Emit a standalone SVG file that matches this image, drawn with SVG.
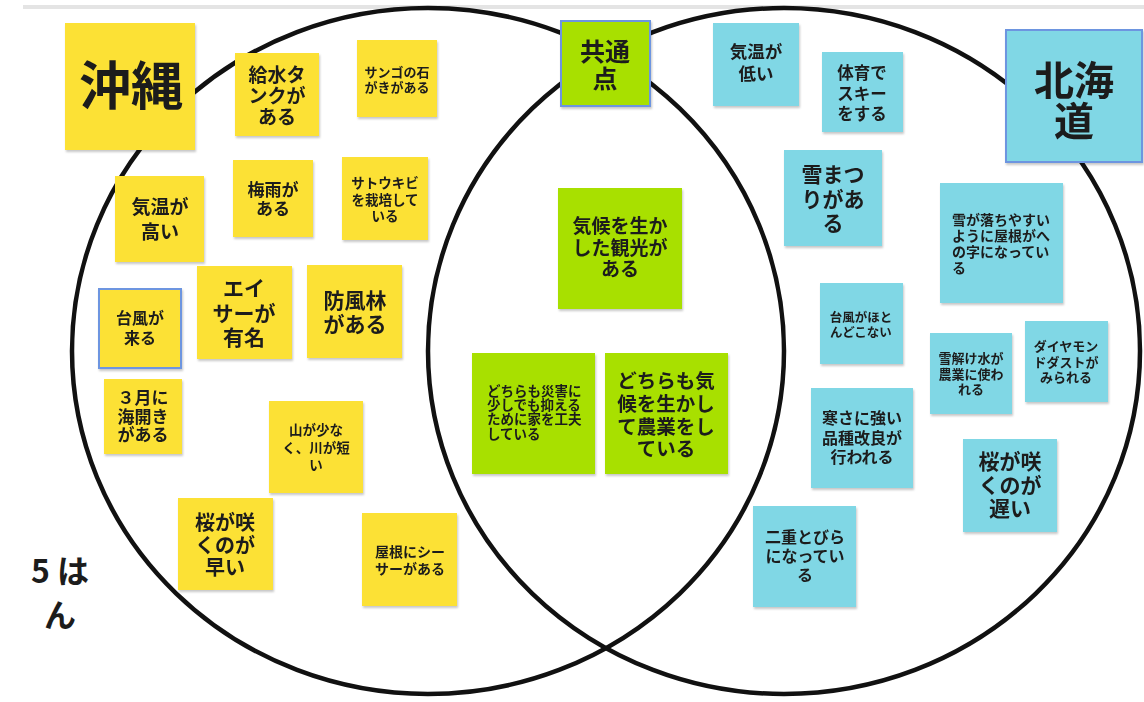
<svg xmlns="http://www.w3.org/2000/svg" width="1144" height="702" viewBox="0 0 1144 702">
<style>
.bg{fill:#ffffff}
.ring{fill:none;stroke:#111;stroke-width:4.5}
.y{fill:#fce136}
.c{fill:#80d7e5}
.g{fill:#a8e000}
.sel{stroke:#6d95e0;stroke-width:2}
.t{font-family:"Noto Sans CJK JP","Noto Sans",sans-serif;font-weight:700;fill:#1c1c1c;text-anchor:middle}
.l{text-anchor:start}
</style>
<defs>
<filter id="sh" x="-10%" y="-10%" width="130%" height="130%">
<feDropShadow dx="1" dy="2" stdDeviation="1.2" flood-color="#000" flood-opacity="0.22"/>
</filter>
</defs>
<rect class="bg" x="0" y="0" width="1144" height="702"/>
<rect x="23" y="5" width="1121" height="4" fill="#e4e4e4"/>
<g id="connectors">
<ellipse class="ring" cx="428" cy="351" rx="356" ry="343"/>
<ellipse class="ring" cx="784" cy="351" rx="356" ry="343"/>
</g>
<g id="okinawa-title" filter="url(#sh)"><rect class="y" x="65" y="23" width="130" height="127"/><text class="t" x="131" y="105" font-size="52">沖縄</text></g>
<g id="n-kyusui" filter="url(#sh)"><rect class="y" x="235" y="53" width="84" height="83"/><text class="t" x="277" y="82" font-size="19"><tspan x="277">給水タ</tspan><tspan x="277" dy="21">ンクが</tspan><tspan x="277" dy="21">ある</tspan></text></g>
<g id="n-sango" filter="url(#sh)"><rect class="y" x="357" y="40" width="80" height="77"/><text class="t" x="397" y="77" font-size="13"><tspan x="397">サンゴの石</tspan><tspan x="397" dy="15">がきがある</tspan></text></g>
<g id="n-kion-takai" filter="url(#sh)"><rect class="y" x="115" y="176" width="89" height="86"/><text class="t" x="160" y="214" font-size="19"><tspan x="160">気温が</tspan><tspan x="160" dy="25">高い</tspan></text></g>
<g id="n-tsuyu" filter="url(#sh)"><rect class="y" x="233" y="160" width="80" height="77"/><text class="t" x="273" y="196" font-size="17"><tspan x="273">梅雨が</tspan><tspan x="273" dy="19">ある</tspan></text></g>
<g id="n-satoukibi" filter="url(#sh)"><rect class="y" x="342" y="157" width="86" height="83"/><text class="t" x="385" y="188" font-size="13.5"><tspan x="385">サトウキビ</tspan><tspan x="385" dy="16.5">を栽培して</tspan><tspan x="385" dy="16.5">いる</tspan></text></g>
<g id="n-taifu-kuru" filter="url(#sh)"><rect class="y sel" x="99" y="289" width="82" height="79"/><text class="t" x="140" y="324" font-size="16"><tspan x="140">台風が</tspan><tspan x="140" dy="20">来る</tspan></text></g>
<g id="n-eisa" filter="url(#sh)"><rect class="y" x="197" y="266" width="95" height="93"/><text class="t" x="244" y="296" font-size="21"><tspan x="244">エイ</tspan><tspan x="244" dy="24.5">サーが</tspan><tspan x="244" dy="24.5">有名</tspan></text></g>
<g id="n-bofurin" filter="url(#sh)"><rect class="y" x="307" y="265" width="95" height="93"/><text class="t" x="355" y="308" font-size="21"><tspan x="355">防風林</tspan><tspan x="355" dy="24">がある</tspan></text></g>
<g id="n-umibiraki" filter="url(#sh)"><rect class="y" x="104" y="379" width="78" height="75"/><text class="t" x="143" y="404" font-size="17"><tspan x="143">３月に</tspan><tspan x="143" dy="18.5">海開き</tspan><tspan x="143" dy="18.5">がある</tspan></text></g>
<g id="n-yama" filter="url(#sh)"><rect class="y" x="269" y="401" width="94" height="92"/><text class="t" x="316" y="435" font-size="13.5"><tspan x="316">山が少な</tspan><tspan x="316" dy="17.5">く、川が短</tspan><tspan x="316" dy="17.5">い</tspan></text></g>
<g id="n-sakura-hayai" filter="url(#sh)"><rect class="y" x="178" y="498" width="95" height="92"/><text class="t" x="225" y="530" font-size="20"><tspan x="225">桜が咲</tspan><tspan x="225" dy="22.5">くのが</tspan><tspan x="225" dy="22.5">早い</tspan></text></g>
<g id="n-shisa" filter="url(#sh)"><rect class="y" x="362" y="513" width="95" height="93"/><text class="t" x="410" y="557" font-size="14"><tspan x="410">屋根にシー</tspan><tspan x="410" dy="16.5">サーがある</tspan></text></g>
<g id="group-label"><text class="t" x="60" y="583" font-size="32"><tspan x="60">5 は</tspan><tspan x="60" dy="44">ん</tspan></text></g>
<g id="common-title" filter="url(#sh)"><rect class="g sel" x="561" y="21" width="89" height="85"/><text class="t" x="605" y="61" font-size="25"><tspan x="605">共通</tspan><tspan x="605" dy="27">点</tspan></text></g>
<g id="n-kanko" filter="url(#sh)"><rect class="g" x="558" y="188" width="124" height="121"/><text class="t" x="620" y="233" font-size="19"><tspan x="620">気候を生か</tspan><tspan x="620" dy="21.5">した観光が</tspan><tspan x="620" dy="21.5">ある</tspan></text></g>
<g id="n-saigai" filter="url(#sh)"><rect class="g" x="472" y="353" width="123" height="121"/><text class="t l" x="487" y="396" font-size="13.5"><tspan x="487">どちらも災害に</tspan><tspan x="487" dy="14.2">少しでも抑える</tspan><tspan x="487" dy="14.2">ために家を工夫</tspan><tspan x="487" dy="14.2">している</tspan></text></g>
<g id="n-nogyo" filter="url(#sh)"><rect class="g" x="605" y="353" width="123" height="121"/><text class="t" x="666" y="388" font-size="19.5"><tspan x="666">どちらも気</tspan><tspan x="666" dy="23">候を生かし</tspan><tspan x="666" dy="23">て農業をし</tspan><tspan x="666" dy="22">ている</tspan></text></g>
<g id="n-kion-hikui" filter="url(#sh)"><rect class="c" x="713" y="23" width="86" height="83"/><text class="t" x="756" y="58" font-size="17.5"><tspan x="756">気温が</tspan><tspan x="756" dy="22">低い</tspan></text></g>
<g id="n-ski" filter="url(#sh)"><rect class="c" x="822" y="52" width="81" height="80"/><text class="t" x="862" y="79" font-size="16.5"><tspan x="862">体育で</tspan><tspan x="862" dy="20.5">スキー</tspan><tspan x="862" dy="20.5">をする</tspan></text></g>
<g id="hokkaido-title" filter="url(#sh)"><rect class="c sel" x="1006" y="30" width="136" height="132"/><text class="t" x="1074" y="95" font-size="40"><tspan x="1074">北海</tspan><tspan x="1074" dy="41">道</tspan></text></g>
<g id="n-yukimatsuri" filter="url(#sh)"><rect class="c" x="784" y="150" width="98" height="96"/><text class="t" x="833" y="182" font-size="21"><tspan x="833">雪まつ</tspan><tspan x="833" dy="24.5">りがあ</tspan><tspan x="833" dy="24">る</tspan></text></g>
<g id="n-yane" filter="url(#sh)"><rect class="c" x="940" y="183" width="123" height="120"/><text class="t l" x="952" y="225" font-size="14"><tspan x="952">雪が落ちやすい</tspan><tspan x="952" dy="16">ように屋根がへ</tspan><tspan x="952" dy="16">の字になってい</tspan><tspan x="952" dy="15.5">る</tspan></text></g>
<g id="n-taifu-konai" filter="url(#sh)"><rect class="c" x="820" y="283" width="83" height="81"/><text class="t" x="861" y="322" font-size="12.5"><tspan x="861">台風がほと</tspan><tspan x="861" dy="14.5">んどこない</tspan></text></g>
<g id="n-yukidoke" filter="url(#sh)"><rect class="c" x="930" y="333" width="82" height="81"/><text class="t" x="971" y="363" font-size="13"><tspan x="971">雪解け水が</tspan><tspan x="971" dy="15.5">農業に使わ</tspan><tspan x="971" dy="15.5">れる</tspan></text></g>
<g id="n-diamond" filter="url(#sh)"><rect class="c" x="1025" y="321" width="83" height="81"/><text class="t" x="1066" y="351" font-size="13"><tspan x="1066">ダイヤモン</tspan><tspan x="1066" dy="15.5">ドダストが</tspan><tspan x="1066" dy="15.5">みられる</tspan></text></g>
<g id="n-kaishin" filter="url(#sh)"><rect class="c" x="811" y="388" width="102" height="100"/><text class="t" x="862" y="424" font-size="16"><tspan x="862">寒さに強い</tspan><tspan x="862" dy="19.5">品種改良が</tspan><tspan x="862" dy="19.5">行われる</tspan></text></g>
<g id="n-sakura-osoi" filter="url(#sh)"><rect class="c" x="963" y="439" width="94" height="93"/><text class="t" x="1010" y="469" font-size="21"><tspan x="1010">桜が咲</tspan><tspan x="1010" dy="23.5">くのが</tspan><tspan x="1010" dy="23.5">遅い</tspan></text></g>
<g id="n-nijutobira" filter="url(#sh)"><rect class="c" x="753" y="506" width="103" height="101"/><text class="t" x="805" y="543" font-size="16"><tspan x="805">二重とびら</tspan><tspan x="805" dy="19">になってい</tspan><tspan x="805" dy="19">る</tspan></text></g>
</svg>
